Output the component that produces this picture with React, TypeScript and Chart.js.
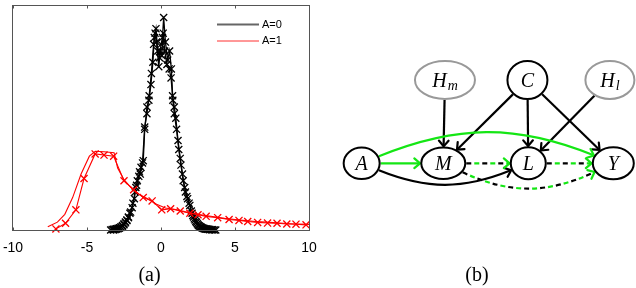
import React, { useEffect, useRef } from "react";
import { Chart, registerables } from "chart.js";
Chart.register(...registerables);

// ---------- panel (a) data ----------
const xTickValues = [-10, -5, 0, 5, 10];
const legendLabels = ["A=0", "A=1"];

const redAX = [-7.1, -6.45, -5.75, -5.2, -4.45, -3.85, -3.2, -2.5, -1.85, -1.2, -0.6, 0.05, 0.65, 1.3, 1.95, 2.5, 3.05, 3.83, 4.6, 5.27, 5.86, 6.53, 7.2, 7.84, 8.5, 9.12, 9.8];
const redAY = [0.005, 0.03, 0.09, 0.23, 0.34, 0.335, 0.33, 0.22, 0.18, 0.145, 0.13, 0.09, 0.095, 0.085, 0.075, 0.068, 0.061, 0.055, 0.047, 0.043, 0.038, 0.034, 0.031, 0.03, 0.027, 0.026, 0.023];

const redBX = [-7.65, -7.0, -6.5, -5.97, -5.4, -4.84, -4.44, -3.85, -3.17, -2.93, -2.5, -2.03, -1.5, -0.9, -0.3, 0.3, 1.0, 1.6, 2.2, 2.9, 3.6, 4.3, 5.0, 5.7, 6.4, 7.1, 7.8, 8.5, 9.2, 10];
const redBY = [0.014, 0.035, 0.07, 0.145, 0.25, 0.33, 0.352, 0.35, 0.345, 0.277, 0.225, 0.19, 0.16, 0.14, 0.115, 0.098, 0.092, 0.082, 0.074, 0.066, 0.059, 0.052, 0.047, 0.042, 0.038, 0.035, 0.032, 0.029, 0.027, 0.025];

const blackAX = [-3.4, -3.3, -3.2, -3.1, -3.0, -2.9, -2.8, -2.7, -2.6, -2.5, -2.4, -2.3, -2.2, -2.1, -1.95, -1.8, -1.7, -1.6, -1.45, -1.35, -1.2, -1.1, -0.95, -0.82, -0.68, -0.55, -0.45, -0.34, -0.22, -0.1, 0.0, 0.1, 0.18, 0.3, 0.45, 0.58, 0.7, 0.8, 0.9, 1.05, 1.2, 1.35, 1.5, 1.65, 1.8, 1.95, 2.1, 2.2, 2.3, 2.4, 2.5, 2.6, 2.7, 2.8, 2.9, 3.0, 3.1, 3.2, 3.3, 3.4, 3.5, 3.7];
const blackAY = [0, 0.002, 0.003, 0.004, 0.006, 0.008, 0.01, 0.014, 0.02, 0.028, 0.036, 0.045, 0.058, 0.075, 0.1, 0.14, 0.19, 0.22, 0.26, 0.28, 0.31, 0.45, 0.55, 0.58, 0.65, 0.75, 0.86, 0.9, 0.8, 0.77, 0.83, 0.86, 0.95, 0.84, 0.76, 0.8, 0.72, 0.58, 0.52, 0.45, 0.36, 0.29, 0.22, 0.17, 0.14, 0.11, 0.075, 0.058, 0.045, 0.034, 0.024, 0.018, 0.013, 0.009, 0.007, 0.005, 0.004, 0.003, 0.002, 0.001, 0.001, 0];

const blackBX = [-3.2, -3.1, -3.0, -2.9, -2.8, -2.7, -2.6, -2.5, -2.4, -2.3, -2.2, -2.05, -1.9, -1.75, -1.65, -1.5, -1.4, -1.25, -1.1, -0.95, -0.8, -0.65, -0.5, -0.4, -0.3, -0.15, -0.05, 0.05, 0.15, 0.25, 0.4, 0.55, 0.68, 0.78, 0.9, 1.0, 1.15, 1.3, 1.45, 1.6, 1.75, 1.9, 2.05, 2.15, 2.25, 2.35, 2.45, 2.55, 2.65, 2.75, 2.85, 2.95, 3.05, 3.15, 3.3, 3.45, 3.6];
const blackBY = [0, 0.002, 0.004, 0.006, 0.009, 0.012, 0.017, 0.024, 0.032, 0.042, 0.055, 0.08, 0.12, 0.17, 0.2, 0.24, 0.25, 0.3, 0.46, 0.52, 0.6, 0.7, 0.83, 0.88, 0.84, 0.73, 0.8, 0.78, 0.88, 0.8, 0.74, 0.72, 0.68, 0.6, 0.55, 0.5, 0.4, 0.32, 0.25, 0.19, 0.15, 0.12, 0.085, 0.065, 0.05, 0.038, 0.028, 0.02, 0.015, 0.011, 0.008, 0.006, 0.004, 0.003, 0.002, 0.001, 0];

const panelLabels = ["(a)", "(b)"];

// ---------- panel (b) data ----------
const nodeIds = ["A", "M", "L", "Y", "Hm", "C", "Hl"];
const nodeMain = ["A", "M", "L", "Y", "H", "C", "H"];
const nodeSub = ["", "", "", "", "m", "", "l"];
const nodeCol = [0, 0.96, 1.96, 2.96, 0.98, 1.95, 2.92];
const nodeRow = [0, 0, 0, 0, 1, 1, 1];
const nodeLatent = [false, false, false, false, true, false, true];

const edgeFrom = ["Hm", "C", "C", "C", "Hl", "A", "A", "A", "M", "L", "M"];
const edgeTo = ["M", "M", "L", "Y", "L", "M", "Y", "L", "L", "Y", "Y"];
const edgeKind = ["black", "black", "black", "black", "black", "green", "green", "black", "mixed", "mixed", "mixed"];
const edgeBend = [0, 0, 0, 0, 0, 0, 22, -22, 0, 0, -25];

// ---------- styles ----------
const NODE_RX: Record<string, number> = { A: 18, M: 22, L: 17.5, Y: 20.5, Hm: 30, C: 20, Hl: 24.5 };
const NODE_RY: Record<string, number> = { A: 15.7, M: 15.7, L: 16, Y: 16, Hm: 19, C: 19, Hl: 19 };
const GREEN = "#14e614";
const SANS = '"Liberation Sans", Arial, sans-serif';
const SERIF = '"Liberation Serif", "Times New Roman", serif';

function pts(xs: number[], ys: number[]) {
  return xs.map((x, i) => ({ x, y: ys[i] }));
}

const panelAPlugin = {
  id: "panelA",
  afterDraw(chart: any) {
    const { ctx, chartArea: a } = chart;
    const xs = chart.scales.x;
    ctx.save();
    ctx.strokeStyle = "#555";
    ctx.lineWidth = 1;
    const L = Math.round(a.left) - 0.5;
    const R = Math.round(a.right) + 0.5;
    const T = Math.round(a.top) - 0.5;
    const B = Math.round(a.bottom) + 0.5;
    ctx.strokeRect(L, T, R - L, B - T);
    ctx.beginPath();
    xTickValues.forEach((v) => {
      const px = Math.round(xs.getPixelForValue(v)) + 0.5;
      ctx.moveTo(px, B);
      ctx.lineTo(px, B - 3);
      ctx.moveTo(px, T);
      ctx.lineTo(px, T + 3);
    });
    ctx.stroke();

    // legend
    const lx0 = 217, lx1 = 259;
    ctx.lineWidth = 2;
    ctx.strokeStyle = "#666";
    ctx.beginPath();
    ctx.moveTo(lx0, 24.5);
    ctx.lineTo(lx1, 24.5);
    ctx.stroke();
    ctx.lineWidth = 1;
    ctx.strokeStyle = "#ff3030";
    ctx.beginPath();
    ctx.moveTo(lx0, 41);
    ctx.lineTo(lx1, 41);
    ctx.stroke();
    ctx.fillStyle = "#000";
    ctx.font = "11px " + SANS;
    ctx.textBaseline = "middle";
    ctx.textAlign = "left";
    ctx.fillText(legendLabels[0], 262, 25);
    ctx.fillText(legendLabels[1], 262, 41);

    ctx.font = "20px " + SERIF;
    ctx.textAlign = "center";
    ctx.textBaseline = "alphabetic";
    ctx.fillText(panelLabels[0], 149.5, 281);
    ctx.restore();
  },
};

function boundary(rx: number, ry: number, phi: number) {
  const c = Math.cos(phi), s = Math.sin(phi);
  return 1 / Math.sqrt((c * c) / (rx * rx) + (s * s) / (ry * ry));
}

const diagramPlugin = {
  id: "diagram",
  afterDatasetsDraw(chart: any) {
    const ctx = chart.ctx;
    const meta = chart.getDatasetMeta(0);
    const pos: Record<string, any> = {};
    nodeIds.forEach((id, i) => {
      const el = meta.data[i];
      pos[id] = { x: el.x, y: el.y, rx: NODE_RX[id], ry: NODE_RY[id] };
    });
    ctx.save();
    ctx.lineCap = "butt";
    ctx.lineJoin = "round";
    edgeFrom.forEach((f, i) => {
      const p = pos[f], q = pos[edgeTo[i]];
      const dx = q.x - p.x, dy = q.y - p.y;
      const theta = Math.atan2(-dy, dx);
      const b = (edgeBend[i] * Math.PI) / 180;
      const aOut = theta + b;
      const aIn = theta + Math.PI - b;
      const r1 = boundary(p.rx + 1, p.ry + 1, aOut);
      const r2 = boundary(q.rx + 1.2, q.ry + 1.2, aIn);
      const s = { x: p.x + r1 * Math.cos(aOut), y: p.y - r1 * Math.sin(aOut) };
      const e = { x: q.x + r2 * Math.cos(aIn), y: q.y - r2 * Math.sin(aIn) };
      let ux: number, uy: number;
      let c1: any = null, c2: any = null;
      if (edgeBend[i] === 0) {
        const d = Math.hypot(e.x - s.x, e.y - s.y);
        ux = (e.x - s.x) / d;
        uy = (e.y - s.y) / d;
      } else {
        const Ld = 0.3915 * Math.hypot(e.x - s.x, e.y - s.y);
        c1 = { x: s.x + Ld * Math.cos(aOut), y: s.y - Ld * Math.sin(aOut) };
        c2 = { x: e.x + Ld * Math.cos(aIn), y: e.y - Ld * Math.sin(aIn) };
        ux = -Math.cos(aIn);
        uy = Math.sin(aIn);
      }
      const endX = e.x - ux * 1, endY = e.y - uy * 1;
      const path = () => {
        ctx.beginPath();
        ctx.moveTo(s.x, s.y);
        if (c1) ctx.bezierCurveTo(c1.x, c1.y, c2.x, c2.y, endX, endY);
        else ctx.lineTo(endX, endY);
      };
      const kind = edgeKind[i];
      ctx.lineWidth = 2.2;
      if (kind === "mixed") {
        ctx.setLineDash([5, 11]);
        ctx.lineDashOffset = 0;
        ctx.strokeStyle = "#000";
        path();
        ctx.stroke();
        ctx.lineDashOffset = 8;
        ctx.strokeStyle = GREEN;
        path();
        ctx.stroke();
        ctx.setLineDash([]);
      } else {
        ctx.strokeStyle = kind === "green" ? GREEN : "#000";
        path();
        ctx.stroke();
      }
      // arrow head
      const hl = 7.5, ha = (40 * Math.PI) / 180;
      const bx1 = e.x - hl * (ux * Math.cos(ha) - uy * Math.sin(ha));
      const by1 = e.y - hl * (uy * Math.cos(ha) + ux * Math.sin(ha));
      const bx2 = e.x - hl * (ux * Math.cos(-ha) - uy * Math.sin(-ha));
      const by2 = e.y - hl * (uy * Math.cos(-ha) + ux * Math.sin(-ha));
      ctx.strokeStyle = kind === "black" ? "#000" : GREEN;
      ctx.lineCap = "round";
      ctx.beginPath();
      ctx.moveTo(bx1, by1);
      ctx.lineTo(e.x, e.y);
      ctx.lineTo(bx2, by2);
      ctx.stroke();
      ctx.lineCap = "butt";
    });

    // nodes
    nodeIds.forEach((id, i) => {
      const p = pos[id];
      ctx.beginPath();
      ctx.ellipse(p.x, p.y, p.rx, p.ry, 0, 0, Math.PI * 2);
      ctx.fillStyle = "#fff";
      ctx.fill();
      ctx.lineWidth = 2;
      ctx.strokeStyle = nodeLatent[i] ? "#999" : "#000";
      ctx.stroke();
      ctx.fillStyle = "#000";
      ctx.textBaseline = "alphabetic";
      ctx.textAlign = "left";
      ctx.font = "italic 20px " + SERIF;
      const wm = ctx.measureText(nodeMain[i]).width;
      ctx.font = "italic 14px " + SERIF;
      const ws = nodeSub[i] ? ctx.measureText(nodeSub[i]).width + 1 : 0;
      const x0 = p.x - (wm + ws) / 2;
      ctx.font = "italic 20px " + SERIF;
      ctx.fillText(nodeMain[i], x0, p.y + 7);
      if (nodeSub[i]) {
        ctx.font = "italic 14px " + SERIF;
        ctx.fillText(nodeSub[i], x0 + wm + 1, p.y + 10.5);
      }
    });

    ctx.font = "20px " + SERIF;
    ctx.textAlign = "center";
    ctx.fillText(panelLabels[1], 157, 281);
    ctx.restore();
  },
};

export default function App() {
  const leftRef = useRef<HTMLCanvasElement>(null);
  const rightRef = useRef<HTMLCanvasElement>(null);

  useEffect(() => {
    document.body.style.margin = "0";
    const marker = { pointStyle: "crossRot", pointRadius: 5, pointBorderWidth: 1.3, pointHoverRadius: 5 };
    const left = new Chart(leftRef.current as HTMLCanvasElement, {
      type: "line",
      data: {
        datasets: [
          { label: legendLabels[1], data: pts(redAX, redAY), borderColor: "#ff0000", pointBorderColor: "#ff0000", borderWidth: 1.1, ...marker, clip: false } as any,
          { label: legendLabels[1], data: pts(redBX, redBY), borderColor: "#ff0000", borderWidth: 1.1, pointRadius: 0, clip: false } as any,
          { label: legendLabels[0], data: pts(blackAX, blackAY), borderColor: "#000", pointBorderColor: "#000", borderWidth: 1.3, ...marker, clip: false } as any,
          { label: legendLabels[0], data: pts(blackBX, blackBY), borderColor: "#000", pointBorderColor: "#000", borderWidth: 1.3, ...marker, clip: false } as any,
        ],
      },
      options: {
        animation: false,
        responsive: false,
        devicePixelRatio: 1,
        layout: { padding: { left: 13, right: 11, top: 1, bottom: 0 } },
        plugins: { legend: { display: false }, tooltip: { enabled: false } },
        elements: { line: { tension: 0 } },
        scales: {
          x: {
            type: "linear",
            min: -10,
            max: 10,
            grid: { display: false },
            border: { display: false },
            ticks: { stepSize: 5, color: "#000", font: { family: SANS, size: 14 }, padding: 2, maxRotation: 0 },
            afterFit: (s: any) => {
              s.height = 58;
            },
          },
          y: { min: 0, max: 1, display: false },
        },
      },
      plugins: [panelAPlugin],
    } as any);

    const right = new Chart(rightRef.current as HTMLCanvasElement, {
      type: "scatter",
      data: {
        datasets: [{ data: pts(nodeCol, nodeRow), pointRadius: 0, pointHoverRadius: 0 }],
      },
      options: {
        animation: false,
        responsive: false,
        devicePixelRatio: 1,
        layout: { padding: 0 },
        plugins: { legend: { display: false }, tooltip: { enabled: false } },
        scales: {
          x: { type: "linear", min: -0.49, max: 3.227, display: false },
          y: { type: "linear", min: -1.497, max: 1.96, display: false },
        },
      },
      plugins: [diagramPlugin],
    } as any);

    return () => {
      left.destroy();
      right.destroy();
    };
  }, []);

  return (
    <div style={{ position: "absolute", left: 0, top: 0, width: 636, height: 288, background: "#fff" }}>
      <canvas ref={leftRef} width={320} height={288} style={{ position: "absolute", left: 0, top: 0, width: 320, height: 288 }} />
      <canvas ref={rightRef} width={316} height={288} style={{ position: "absolute", left: 320, top: 0, width: 316, height: 288 }} />
    </div>
  );
}
